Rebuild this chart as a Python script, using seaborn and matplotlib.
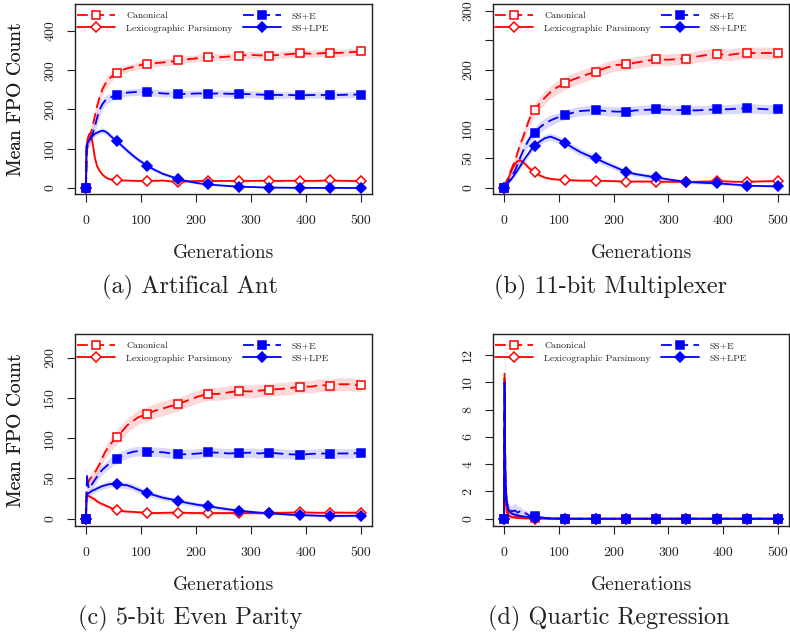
import numpy as np
import matplotlib
matplotlib.use("Agg")
import matplotlib.pyplot as plt
import seaborn as sns

# Generations at which the mean FPO counts are recorded
GENS = [0, 1, 2, 3, 5, 8, 12, 16, 20, 25, 30, 35, 40, 45, 50, 56, 65, 75, 85, 95,
        111, 125, 140, 155, 167, 185, 205, 222, 240, 260, 278, 300, 315, 333, 350,
        370, 389, 410, 425, 444, 460, 480, 500]
# Generations that carry a marker
MARK_GENS = [0, 56, 111, 167, 222, 278, 333, 389, 444, 500]

SERIES = ["Canonical", "Lexicographic Parsimony", "SS+E", "SS+LPE"]

# ---- (a) Artificial Ant ----
A_CAN = [0, 60, 100, 108, 118, 135, 158, 182, 208, 232, 252, 265, 274, 282, 288, 294, 300, 305, 308, 312,
         317, 318, 320, 322, 325, 328, 331, 334, 333, 335, 337, 339, 338, 337, 339,
         341, 344, 342, 343, 345, 344, 346, 348]
A_CAN_CI = [0, 10, 12, 12, 14, 16, 18, 18, 18, 17, 16, 14, 13, 12, 11, 10, 10, 9, 9, 9,
            9, 9, 9, 9, 9, 9, 9, 9, 9, 9, 9, 9, 9, 9, 9,
            9, 9, 9, 9, 9, 9, 9, 9]
A_LP = [0, 105, 115, 125, 135, 140, 115, 78, 56, 43, 34, 28, 24, 22, 21, 19.5, 19, 19, 18.5, 18,
        18, 18.5, 19, 17, 15.5, 17, 18, 18.5, 18, 18, 18.7, 18, 18.5, 18.7, 18,
        18.5, 18.7, 18, 18.5, 19.5, 18.5, 18, 18]
A_LP_CI = [0, 10, 10, 10, 10, 10, 10, 8, 6, 5, 4, 3.5, 3, 3, 2.5, 2.5, 2.5, 2.5, 2.5, 2.5,
           2.5, 2.5, 2.5, 2.5, 2.5, 2.5, 2.5, 2.5, 2.5, 2.5, 2.5, 2.5, 2.5, 2.5, 2.5,
           2.5, 2.5, 2.5, 2.5, 2.5, 2.5, 2.5, 2.5]
A_SSE = [0, 95, 108, 110, 115, 124, 138, 156, 178, 200, 214, 223, 228, 231, 234, 237, 240, 243, 244, 245,
         244, 243, 241, 240, 239, 240, 241, 240, 241, 240, 240, 239, 238, 237, 237,
         237, 236, 237, 237, 237, 237, 238, 238]
A_SSE_CI = [0, 10, 10, 10, 12, 14, 16, 18, 18, 16, 14, 12, 11, 10, 10, 9, 9, 9, 9, 9,
            9, 9, 9, 9, 9, 9, 9, 9, 9, 9, 9, 9, 9, 9, 9,
            8, 8, 8, 8, 8, 8, 8, 8]
A_LPE = [0, 108, 112, 115, 120, 127, 133, 138, 141, 144, 146, 144, 139, 132, 126, 120, 108, 95, 83, 72,
         57, 46, 36, 29, 23, 17, 12, 9, 7, 5, 3.5, 2.5, 1.8, 1.2, 0.9,
         0.6, 0.4, 0.3, 0.3, 0.2, 0.2, 0.1, 0.1]
A_LPE_CI = [0, 8, 8, 8, 8, 8, 7, 7, 7, 7, 7, 7, 7, 7, 7, 7, 7, 7, 7, 6,
            6, 5, 5, 4, 4, 3, 3, 2, 2, 1.5, 1.5, 1, 1, 1, 0.8,
            0.8, 0.6, 0.6, 0.5, 0.5, 0.5, 0.5, 0.5]

# ---- (b) 11-bit Multiplexer ----
B_CAN = [0, 2, 5, 7, 12, 17, 28, 37, 45, 60, 74, 86, 99, 113, 123, 132, 143, 153, 162, 169,
         177, 183, 188, 193, 196, 203, 208, 209, 212, 215, 217.5, 217, 218, 218.6, 222,
         225, 226.5, 225, 227, 228.8, 228, 228.5, 227.7]
B_CAN_CI = [0, 2, 3, 3, 4, 5, 6, 7, 8, 9, 10, 10, 11, 11, 11, 11, 11, 11, 11, 11,
            11, 11, 11, 11, 10, 10, 10, 10, 10, 10, 10, 10, 10, 10, 10,
            10, 10, 10, 10, 10, 10, 10, 10]
B_LP = [0, 2, 4, 6, 10, 16, 25, 33, 40, 45, 46, 43, 39, 34, 30, 26, 21, 17, 15, 14,
        13, 12.5, 12, 12, 12, 11.5, 11, 10, 10.5, 10.5, 10, 10, 10, 9.6, 10,
        10.5, 11.3, 10.5, 10, 10, 10.5, 11, 11.3]
B_LP_CI = [0, 1, 2, 2, 3, 4, 5, 6, 6, 6, 6, 5, 5, 4, 4, 3.5, 3, 2.5, 2.5, 2,
           2, 2, 2, 2, 2, 2, 2, 2, 2, 2, 2, 2, 2, 2, 2,
           2, 2, 2, 2, 2, 2, 2, 2]
B_SSE = [0, 2, 4, 5, 8, 11, 16, 22, 29, 40, 52, 63, 72, 81, 88, 93, 102, 109, 114, 118,
         123, 127, 130, 131, 131.6, 130, 129, 128.8, 131, 132, 132.8, 132, 131.5, 131.6, 131,
         132, 132.8, 133, 134, 134.5, 134, 133, 132.8]
B_SSE_CI = [0, 2, 2, 3, 3, 4, 5, 6, 7, 8, 9, 9, 9, 9, 9, 9, 9, 9, 9, 8,
            8, 8, 8, 8, 8, 8, 8, 8, 8, 8, 8, 8, 8, 8, 8,
            8, 8, 8, 8, 8, 8, 8, 8]
B_LPE = [0, 1.5, 3, 4, 6, 9, 13, 18, 23, 30, 37, 45, 52, 58, 65, 70.6, 78, 84, 86.5, 83,
         76.3, 68, 60, 54, 49.7, 42, 34, 27, 23, 20, 17.5, 14, 12, 10, 9,
         8, 7.3, 6, 5, 3.4, 3, 2.6, 2.3]
B_LPE_CI = [0, 1, 1.5, 2, 2, 2.5, 3, 3, 4, 4, 5, 5, 5, 6, 6, 6, 6, 6, 6, 6,
            6, 6, 6, 6, 6, 5, 5, 5, 4, 4, 4, 3, 3, 3, 2.5,
            2.5, 2, 2, 2, 1.5, 1.5, 1.5, 1.5]

# ---- (c) 5-bit Even Parity ----
C_CAN = [0, 30, 42, 44, 46, 50, 53, 57, 62, 68, 76, 83, 88, 93, 97, 101, 108, 116, 121, 126,
         130, 134, 137, 140, 142, 147, 152, 155, 155, 157, 158.6, 158, 159, 160, 161,
         162, 164, 164, 166, 165.2, 167, 167, 165.6]
C_CAN_CI = [0, 5, 5, 5, 5, 6, 6, 7, 7, 8, 8, 8, 8, 9, 9, 9, 9, 9, 9, 9,
            9, 9, 9, 9, 8, 8, 8, 8, 8, 8, 8, 8, 8, 8, 8,
            8, 8, 8, 8, 8, 8, 8, 8]
C_LP = [0, 28, 29.5, 29, 28, 27, 25.5, 24, 21.5, 19.5, 18, 16.5, 15, 13.5, 12, 10.5, 9.5, 8.8, 8.5, 8,
        7, 7, 7.2, 7.5, 7.5, 7.2, 7, 6.6, 7, 7, 6.8, 7, 7.2, 7.5, 7.3,
        7.5, 7.9, 7.5, 7.3, 7.5, 7.5, 7.4, 7.5]
C_LP_CI = [0, 4, 4, 4, 4, 3.5, 3, 3, 3, 2.5, 2.5, 2.5, 2, 2, 2, 2, 2, 2, 2, 2,
           2, 2, 2, 2, 2, 2, 2, 2, 2, 2, 2, 2, 2, 2, 2,
           2, 2, 2, 2, 2, 2, 2, 2]
C_SSE = [0, 35, 56, 45, 37, 40, 44, 48, 52, 57, 61, 64, 67, 70, 72, 74.5, 78, 81, 83, 84,
         83, 83, 82.5, 81, 80, 80, 81, 82.4, 82, 81, 81.6, 82, 81, 82, 81,
         80, 79.5, 80.5, 81, 80.7, 81, 81, 81.6]
C_SSE_CI = [0, 8, 10, 8, 6, 6, 6, 6, 6, 6, 6, 6, 6, 6, 6, 6, 6, 6, 6, 6,
            6, 6, 6, 6, 6, 6, 6, 6, 6, 6, 6, 6, 6, 6, 6,
            6, 6, 6, 6, 6, 6, 6, 6]
C_LPE = [0, 25, 30, 31, 32, 33, 35, 36, 37.5, 39, 40.5, 41.5, 42.5, 43, 43, 42.6, 42, 41.5, 39, 36,
         32, 29, 26, 24, 22, 19.5, 17, 15.7, 13.5, 11.5, 10, 8.5, 7.5, 6.6, 6,
         5, 4.5, 4, 3.6, 3.3, 3.4, 3.5, 3.7]
C_LPE_CI = [0, 5, 4, 4, 4, 4, 4, 4, 4, 4, 4, 4, 4, 4, 4, 4, 4, 4, 4, 4,
            4, 3.5, 3.5, 3, 3, 3, 3, 3, 2.5, 2.5, 2, 2, 2, 1.5, 1.5,
            1.5, 1.5, 1.5, 1.2, 1.2, 1.2, 1.2, 1.2]

# ---- (d) Quartic Regression ----
D_CAN = [0, 10.7, 6.0, 3.0, 1.0, 0.5, 0.3, 0.2, 0.15, 0.12, 0.1, 0.08, 0.06, 0.05, 0.04, 0.03, 0.02, 0.01, 0, 0,
         0, 0, 0, 0, 0, 0, 0, 0, 0, 0, 0, 0, 0, 0, 0,
         0, 0, 0, 0, 0, 0, 0, 0]
D_CAN_CI = [0, 4.5, 3.0, 1.5, 0.5, 0.3, 0.2, 0.15, 0.12, 0.1, 0.08, 0.06, 0.05, 0.04, 0.03, 0.03, 0.02, 0.01, 0, 0,
            0, 0, 0, 0, 0, 0, 0, 0, 0, 0, 0, 0, 0, 0, 0,
            0, 0, 0, 0, 0, 0, 0, 0]
D_LP = [0, 6.5, 2.5, 1.2, 0.5, 0.25, 0.15, 0.1, 0.08, 0.05, 0.04, 0.03, 0.02, 0.02, 0.01, 0, 0, 0, 0, 0,
        0, 0, 0, 0, 0, 0, 0, 0, 0, 0, 0, 0, 0, 0, 0,
        0, 0, 0, 0, 0, 0, 0, 0]
D_LP_CI = [0, 4, 2, 1, 0.4, 0.2, 0.15, 0.1, 0.05, 0.05, 0.05, 0.05, 0.05, 0.05, 0.05, 0.05, 0, 0, 0, 0,
           0, 0, 0, 0, 0, 0, 0, 0, 0, 0, 0, 0, 0, 0, 0,
           0, 0, 0, 0, 0, 0, 0, 0]
D_SSE = [0, 8.0, 4.0, 2.2, 1.2, 0.8, 0.6, 0.55, 0.6, 0.45, 0.55, 0.35, 0.4, 0.25, 0.22, 0.2, 0.12, 0.06, 0.03, 0.02,
         0.01, 0, 0, 0, 0, 0, 0, 0, 0, 0, 0, 0, 0, 0, 0,
         0, 0, 0, 0, 0, 0, 0, 0]
D_SSE_CI = [0, 3, 2, 1, 0.6, 0.4, 0.35, 0.45, 0.6, 0.45, 0.35, 0.3, 0.25, 0.2, 0.15, 0.12, 0.1, 0.05, 0.03, 0.02,
            0.01, 0, 0, 0, 0, 0, 0, 0, 0, 0, 0, 0, 0, 0, 0,
            0, 0, 0, 0, 0, 0, 0, 0]
D_LPE = [0, 10.0, 5.0, 2.5, 1.2, 0.7, 0.45, 0.35, 0.3, 0.25, 0.2, 0.17, 0.14, 0.12, 0.1, 0.08, 0.05, 0.03, 0.02, 0.01,
         0, 0, 0, 0, 0, 0, 0, 0, 0, 0, 0, 0, 0, 0, 0,
         0, 0, 0, 0, 0, 0, 0, 0]
D_LPE_CI = [0, 3.5, 2, 1, 0.5, 0.3, 0.2, 0.15, 0.12, 0.1, 0.08, 0.06, 0.05, 0.05, 0.05, 0.05, 0.03, 0.02, 0.01, 0,
            0, 0, 0, 0, 0, 0, 0, 0, 0, 0, 0, 0, 0, 0, 0,
            0, 0, 0, 0, 0, 0, 0, 0]

PANELS = [
    dict(title="(a) Artifical Ant", data=[A_CAN, A_LP, A_SSE, A_LPE],
         ci=[A_CAN_CI, A_LP_CI, A_SSE_CI, A_LPE_CI],
         ylim=(-15.3, 468.8), yticks=[0, 100, 200, 300, 400],
         yticklabels=["0", "100", "200", "300", "400"]),
    dict(title="(b) 11-bit Multiplexer", data=[B_CAN, B_LP, B_SSE, B_LPE],
         ci=[B_CAN_CI, B_LP_CI, B_SSE_CI, B_LPE_CI],
         ylim=(-10.7, 311.4), yticks=[0, 50, 100, 150, 200, 250, 300],
         yticklabels=["0", "50", "100", "", "200", "", "300"]),
    dict(title="(c) 5-bit Even Parity", data=[C_CAN, C_LP, C_SSE, C_LPE],
         ci=[C_CAN_CI, C_LP_CI, C_SSE_CI, C_LPE_CI],
         ylim=(-9.1, 229.4), yticks=[0, 50, 100, 150, 200],
         yticklabels=["0", "50", "100", "150", "200"]),
    dict(title="(d) Quartic Regression", data=[D_CAN, D_LP, D_SSE, D_LPE],
         ci=[D_CAN_CI, D_LP_CI, D_SSE_CI, D_LPE_CI],
         ylim=(-0.535, 13.54), yticks=[0, 2, 4, 6, 8, 10, 12],
         yticklabels=["0", "2", "4", "6", "8", "10", "12"]),
]

XTICKS = [0, 100, 200, 300, 400, 500]

RED = "#FF0000"
BLUE = "#0000FF"
STYLES = [
    dict(color=RED, dashed=True, marker="s", filled=False, ms=6),
    dict(color=RED, dashed=False, marker="D", filled=False, ms=5.5),
    dict(color=BLUE, dashed=True, marker="s", filled=True, ms=6),
    dict(color=BLUE, dashed=False, marker="D", filled=True, ms=5.5),
]

sns.set_theme(style="ticks")
plt.rcParams["font.family"] = ["cmr10", "DejaVu Serif"]
plt.rcParams["mathtext.fontset"] = "cm"
plt.rcParams["axes.formatter.use_mathtext"] = True

W, H = 790, 634
fig = plt.figure(figsize=(W / 100, H / 100), dpi=100)
fig.patch.set_facecolor("white")

# axes boxes in pixels: left, top, right, bottom
BOXES = [(75, 4, 372, 194), (493, 4, 789, 194), (75, 334, 372, 526), (493, 334, 789, 526)]
XLABEL_Y = [253, 253, 585, 585]
CAPTIONS = [(190, 287), (610, 287), (190, 618), (609, 618)]

gens = np.array(GENS, dtype=float)
mark_idx = [GENS.index(g) for g in MARK_GENS]

for p, box, xl_y, cap in zip(PANELS, BOXES, XLABEL_Y, CAPTIONS):
    l, t, r, b = box
    ax = fig.add_axes([l / W, 1 - b / H, (r - l) / W, (b - t) / H])
    ax.set_facecolor("white")

    # confidence bands
    for vals, ci, st in zip(p["data"], p["ci"], STYLES):
        v = np.array(vals, dtype=float)
        c = np.array(ci, dtype=float)
        ax.fill_between(gens, v - c, v + c, color=st["color"], alpha=0.15, lw=0, zorder=1)

    # mean curves
    for name, vals, st in zip(SERIES, p["data"], STYLES):
        kw = dict(color=st["color"], lw=1.3, marker=st["marker"], markersize=st["ms"],
                  markeredgecolor=st["color"], markeredgewidth=1.1,
                  markerfacecolor=st["color"] if st["filled"] else "white",
                  markevery=mark_idx)
        if st["dashed"]:
            kw["dashes"] = (6, 3)
        sns.lineplot(x=gens, y=np.array(vals, dtype=float), ax=ax, label=name,
                     sort=False, errorbar=None, zorder=3, **kw)

    ax.set_xlim(-20, 520)
    ax.set_ylim(*p["ylim"])
    ax.set_xticks(XTICKS)
    ax.set_xticklabels([str(v) for v in XTICKS])
    ax.set_yticks(p["yticks"])
    ax.set_yticklabels(p["yticklabels"], rotation=90, va="center")

    for s in ax.spines.values():
        s.set_visible(True)
        s.set_color("#222222")
        s.set_linewidth(1.0)
    ax.tick_params(axis="both", direction="out", length=6, width=0.8, color="#222222",
                   labelsize=10, labelcolor="#222222")
    ax.tick_params(axis="x", pad=9)
    ax.tick_params(axis="y", pad=7.6)

    ax.set_xlabel("Generations", fontsize=14, va="center", color="#222222")
    ax.xaxis.set_label_coords(0.5, (b - xl_y) / (b - t))
    ax.set_ylabel("Mean FPO Count", fontsize=14, va="center", color="#222222")
    ax.yaxis.set_label_coords((16 - l) / (r - l), 0.5)

    leg = ax.legend(ncol=2, loc="upper left", bbox_to_anchor=(0.0, 1 - 5.5 / (b - t)),
                    frameon=False, fontsize=7.0, handlelength=3.95, handletextpad=1.1,
                    columnspacing=1.05, labelspacing=0.38, borderpad=0.1, borderaxespad=0.1)
    for txt in leg.get_texts():
        txt.set_color("#222222")

    fig.text(cap[0] / W, 1 - cap[1] / H, p["title"], fontsize=17.5, ha="center", va="center",
             color="#222222")

fig.savefig("out.png", dpi=100, facecolor="white")
